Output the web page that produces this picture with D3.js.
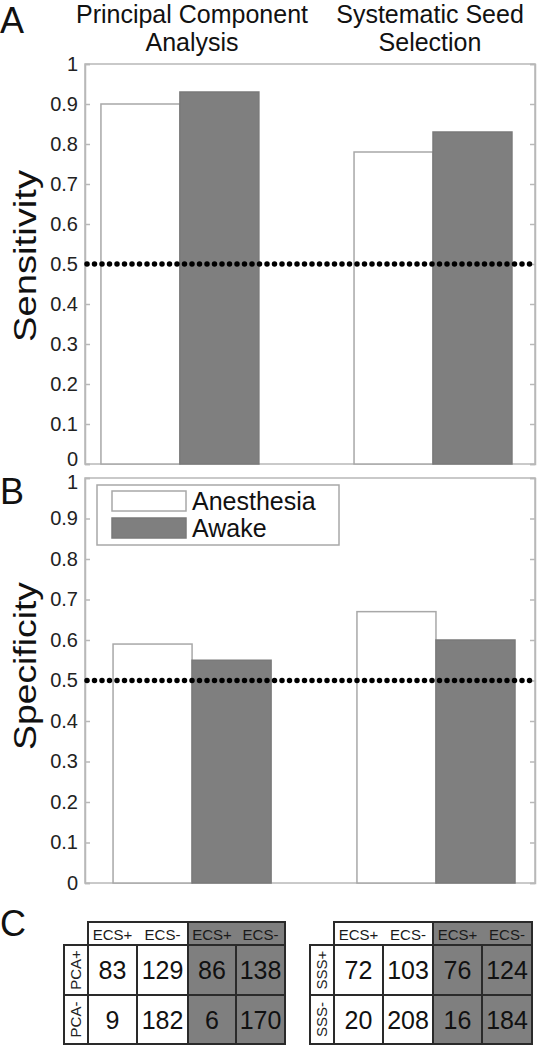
<!DOCTYPE html>
<html><head><meta charset="utf-8">
<script src="https://cdn.jsdelivr.net/npm/d3@7"></script>
<style>
html,body{margin:0;padding:0;background:#fff;}
svg{display:block;font-family:"Liberation Sans",Arial,Helvetica,sans-serif;}
</style></head>
<body><svg id="c" width="537" height="1047"></svg>
<script>
// ---------- data ----------
const methodTitles = [["Principal Component","Analysis"],["Systematic Seed","Selection"]];
const conditions = ["Anesthesia","Awake"];
const sensAnesthesia = [0.90, 0.78];
const sensAwake      = [0.93, 0.83];
const specAnesthesia = [0.59, 0.67];
const specAwake      = [0.55, 0.60];
const chanceLevel = 0.5;
const yTickValues = [0,0.1,0.2,0.3,0.4,0.5,0.6,0.7,0.8,0.9,1];
const yTickLabels = ["0","0.1","0.2","0.3","0.4","0.5","0.6","0.7","0.8","0.9","1"];
const colLabels = ["ECS+","ECS-","ECS+","ECS-"];
const pcaRowLabels = ["PCA+","PCA-"];
const sssRowLabels = ["SSS+","SSS-"];
const pcaCounts = [[83,129,86,138],[9,182,6,170]];
const sssCounts = [[72,103,76,124],[20,208,16,184]];

// ---------- style ----------
const GRAY = "#7f7f7f";
const AXIS = "#b8b8b8";
const svg = d3.select("#c");

function barPanel(cfg){
  const x = d3.scaleLinear().domain(cfg.xdom).range([85,535]);
  const y = d3.scaleLinear().domain([0,1]).range([cfg.y0,cfg.y1]);
  const g = svg.append("g");
  g.append("rect").attr("x",85).attr("y",cfg.y1).attr("width",450).attr("height",cfg.y0-cfg.y1)
    .attr("fill","#fff").attr("stroke",AXIS).attr("stroke-width",1.5);
  const groups = [1,2];
  const data = [];
  groups.forEach((c,i)=>{
    data.push({x0:c-cfg.bw, v:cfg.a[i], fill:"#fff"});
    data.push({x0:c, v:cfg.w[i], fill:GRAY});
  });
  g.selectAll("rect.bar").data(data).join("rect").attr("class","bar")
    .attr("x",d=>x(d.x0)).attr("width",d=>x(d.x0+cfg.bw)-x(d.x0))
    .attr("y",d=>y(d.v)).attr("height",d=>y(0)-y(d.v))
    .attr("fill",d=>d.fill).attr("stroke",d=>d.fill==="#fff"?"#a8a8a8":"#7a7a7a").attr("stroke-width",1.5);
  const ax = d3.axisLeft(y).tickValues(yTickValues).tickFormat((d,i)=>yTickLabels[i]).tickSize(-5).tickPadding(7);
  const ga = g.append("g").attr("transform","translate(85,0)").call(ax);
  ga.select(".domain").attr("stroke",AXIS).attr("stroke-width",1.5);
  ga.selectAll(".tick line").attr("stroke",AXIS).attr("stroke-width",1.5);
  ga.selectAll(".tick text").attr("font-size",20).attr("fill","#222").attr("font-family","Liberation Sans, Arial, sans-serif")
    .attr("dy",d=>d===0?cfg.dy0:(d===1?cfg.dy1:"0.32em"));
  const ar = d3.axisRight(y).tickValues(yTickValues).tickFormat("").tickSize(-5);
  const gr = g.append("g").attr("transform","translate(535,0)").call(ar);
  gr.select(".domain").attr("stroke",AXIS).attr("stroke-width",1.5);
  gr.selectAll(".tick line").attr("stroke",AXIS).attr("stroke-width",1.5);
  g.append("line").attr("x1",87).attr("x2",535).attr("y1",y(chanceLevel)).attr("y2",y(chanceLevel))
    .attr("stroke","#000").attr("stroke-width",5.5).attr("stroke-linecap","round").attr("stroke-dasharray","0,7.5");
  g.append("text").attr("transform",`translate(${cfg.lx},${cfg.ly}) rotate(-90)`)
    .attr("text-anchor","middle").attr("font-size",32).attr("fill","#111")
    .attr("textLength",cfg.lenY).attr("lengthAdjust","spacingAndGlyphs").text(cfg.label);
  svg.append("text").attr("x",0).attr("y",cfg.letterY).attr("font-size",36).attr("fill","#111").text(cfg.letter);
  return {x,y,g};
}

const A = barPanel({xdom:[0.625,2.403], bw:0.312, y0:464, y1:64, a:sensAnesthesia, w:sensAwake,
  label:"Sensitivity", lx:36, ly:256, lenY:172, letter:"A", letterY:33, dy0:"0.05em", dy1:"0.32em"});
const B = barPanel({xdom:[0.561,2.406], bw:0.324, y0:883, y1:478, a:specAnesthesia, w:specAwake,
  label:"Specificity", lx:36, ly:666, lenY:168, letter:"B", letterY:504, dy0:"0.32em", dy1:"0.5em"});

methodTitles.forEach((t,i)=>{
  const cx = [192,430][i];
  t.forEach((line,j)=>{
    svg.append("text").attr("x",cx).attr("y",23+j*28).attr("text-anchor","middle")
      .attr("font-size",25).attr("fill","#111").text(line);
  });
});

// legend
const lg = svg.append("g");
lg.append("rect").attr("x",97).attr("y",485).attr("width",242).attr("height",60)
  .attr("fill","#fff").attr("stroke","#a8a8a8").attr("stroke-width",1.5);
conditions.forEach((c,i)=>{
  lg.append("rect").attr("x",112).attr("y",491+i*27).attr("width",74).attr("height",20)
    .attr("fill",i===0?"#fff":GRAY).attr("stroke",i===0?"#a8a8a8":"#7a7a7a").attr("stroke-width",1.5);
  lg.append("text").attr("x",192).attr("y",510+i*27).attr("font-size",25).attr("fill","#111").text(c);
});

// panel C
svg.append("text").attr("x",0).attr("y",936).attr("font-size",36).attr("fill","#111").text("C");

function table(cfg){
  const g = svg.append("g");
  const edges = cfg.edges;
  const rowY = [945,995,1044];
  const top = 922;
  const S = "#2a2a2a";
  [[0,2,"#fff"],[2,4,GRAY]].forEach(b=>{
    g.append("rect").attr("x",edges[b[0]]).attr("y",top).attr("width",edges[b[1]]-edges[b[0]])
      .attr("height",rowY[0]-top).attr("fill",b[2]).attr("stroke",S).attr("stroke-width",2);
  });
  colLabels.forEach((l,j)=>{
    g.append("text").attr("x",(edges[j]+edges[j+1])/2).attr("y",940).attr("text-anchor","middle")
      .attr("font-size",15).attr("fill","#1a1a1a").text(l);
  });
  cfg.rows.forEach((r,i)=>{
    g.append("rect").attr("x",cfg.hx).attr("y",rowY[i]).attr("width",edges[0]-cfg.hx)
      .attr("height",rowY[i+1]-rowY[i]).attr("fill","#fff").attr("stroke",S).attr("stroke-width",2);
    const cy = (rowY[i]+rowY[i+1])/2;
    g.append("text").attr("transform",`translate(${edges[0]-7},${cy}) rotate(-90)`)
      .attr("text-anchor","middle").attr("font-size",15).attr("fill","#222").text(r);
  });
  cfg.counts.forEach((row,i)=>{
    row.forEach((v,j)=>{
      g.append("rect").attr("x",edges[j]).attr("y",rowY[i]).attr("width",edges[j+1]-edges[j])
        .attr("height",rowY[i+1]-rowY[i]).attr("fill",j<2?"#fff":GRAY).attr("stroke",S).attr("stroke-width",2);
      g.append("text").attr("x",(edges[j]+edges[j+1])/2).attr("y",(rowY[i]+rowY[i+1])/2+9)
        .attr("text-anchor","middle").attr("font-size",25).attr("fill","#111").text(v);
    });
  });
}
table({edges:[88,137,188,236,285], hx:64, rows:pcaRowLabels, counts:pcaCounts});
table({edges:[334,383,433,482,532], hx:310, rows:sssRowLabels, counts:sssCounts});
</script></body></html>
